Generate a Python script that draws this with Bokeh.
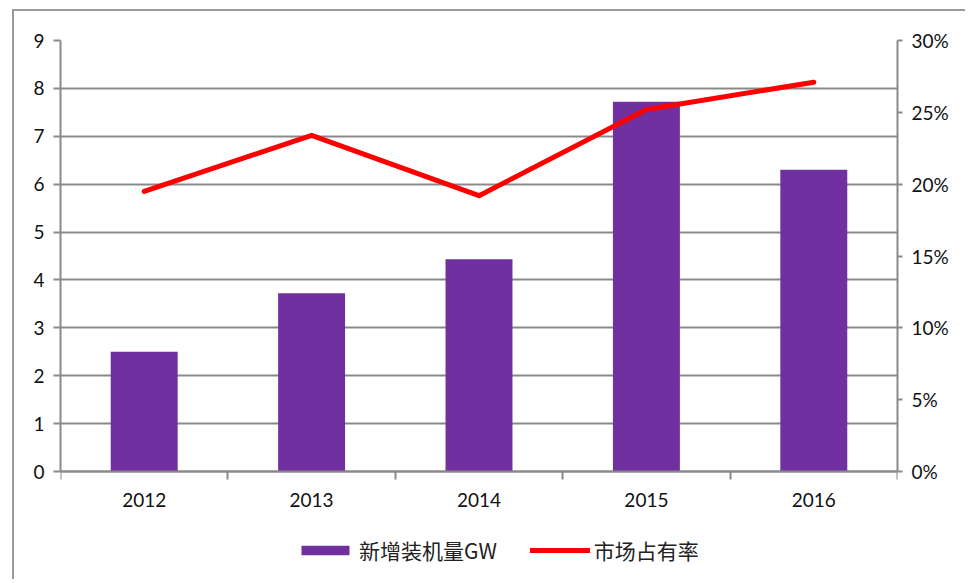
from bokeh.plotting import figure
from bokeh.models import (Range1d, LinearAxis, FixedTicker, NumeralTickFormatter,
                          ColumnDataSource, Legend, LegendItem)
from bokeh.embed import file_html
from bokeh.resources import INLINE

years = ["2012", "2013", "2014", "2015", "2016"]
installed_gw = [2.5, 3.72, 4.43, 7.72, 6.30]
market_share = [0.195, 0.234, 0.192, 0.252, 0.271]
y_ticks = [0, 1, 2, 3, 4, 5, 6, 7, 8, 9]
share_ticks = [0.0, 0.05, 0.10, 0.15, 0.20, 0.25, 0.30]

xpos = [i + 0.5 for i in range(len(years))]
src = ColumnDataSource(dict(x=xpos, gw=installed_gw, share=market_share))

GRAY = "#898989"
TICK_FONT = "Lato"

# frame: 431px for the 0..9 axis, plus 105px of room below it for labels and legend
Y_MAX = 9
SHARE_MAX = 0.30
below_frac = 105 / 431

p = figure(width=953, height=570, output_backend="svg", toolbar_location=None,
           x_range=Range1d(0, len(years)),
           y_range=Range1d(-Y_MAX * below_frac, Y_MAX),
           min_border_left=46, min_border_right=70, min_border_top=29,
           min_border_bottom=5, outline_line_color=None)
p.styles = {"border-top": "2px solid #9a9a9a", "border-left": "2px solid #9a9a9a",
            "margin-top": "9px", "margin-left": "12px"}
p.extra_y_ranges = {"share": Range1d(-SHARE_MAX * below_frac, SHARE_MAX)}

bars = p.vbar(x="x", top="gw", width=0.4, source=src, fill_color="#7030A0",
              line_color=None)
line = p.line(x="x", y="share", source=src, y_range_name="share", line_color="#FF0000",
              line_width=5, line_join="round", line_cap="round")

# x axis, drawn at y = 0
xa = p.xaxis[0]
xa.fixed_location = 0
xa.ticker = FixedTicker(ticks=xpos, minor_ticks=list(range(len(years) + 1)))
xa.major_label_overrides = {x: y for x, y in zip(xpos, years)}
xa.major_tick_out = 0
xa.major_tick_in = 0
xa.minor_tick_out = 8
xa.minor_tick_in = 0
xa.minor_tick_line_color = GRAY
xa.minor_tick_line_width = 2
xa.axis_line_color = GRAY
xa.axis_line_width = 2
xa.major_label_standoff = 13
xa.major_label_text_font = TICK_FONT
xa.major_label_text_font_size = "19px"
xa.major_label_text_color = "#111111"

# left y axis
ya = p.yaxis[0]
ya.bounds = (0, Y_MAX)
ya.ticker = FixedTicker(ticks=y_ticks)
ya.major_tick_out = 7
ya.major_tick_in = 0
ya.minor_tick_out = 0
ya.minor_tick_in = 0
ya.major_tick_line_color = GRAY
ya.major_tick_line_width = 2
ya.axis_line_color = GRAY
ya.axis_line_width = 2
ya.major_label_standoff = 9
ya.major_label_text_font = TICK_FONT
ya.major_label_text_font_size = "19px"
ya.major_label_text_color = "#111111"

# right y axis
ra = LinearAxis(y_range_name="share", ticker=FixedTicker(ticks=share_ticks),
                formatter=NumeralTickFormatter(format="0%"), bounds=(0, SHARE_MAX))
ra.major_tick_out = 5
ra.major_tick_in = 0
ra.minor_tick_out = 0
ra.minor_tick_in = 0
ra.major_tick_line_color = GRAY
ra.major_tick_line_width = 2
ra.axis_line_color = GRAY
ra.axis_line_width = 2
ra.major_label_standoff = 9
ra.major_label_text_font = TICK_FONT
ra.major_label_text_font_size = "19px"
ra.major_label_text_color = "#111111"
p.add_layout(ra, "right")

p.xgrid.grid_line_color = None
p.ygrid.ticker = FixedTicker(ticks=y_ticks)
p.ygrid.grid_line_color = GRAY
p.ygrid.grid_line_width = 2

legend = Legend(items=[LegendItem(label="新增装机量GW", renderers=[bars]),
                       LegendItem(label="市场占有率", renderers=[line])],
                orientation="horizontal", location=(235, 11),
                glyph_width=60, glyph_height=12, label_standoff=4, spacing=33,
                padding=0, margin=0, border_line_color=None,
                background_fill_alpha=0,
                label_text_font="Noto Sans CJK SC", label_text_font_size="21px",
                label_text_color="#222222")
p.add_layout(legend, "center")

open("out.html", "w").write(file_html(p, INLINE))
